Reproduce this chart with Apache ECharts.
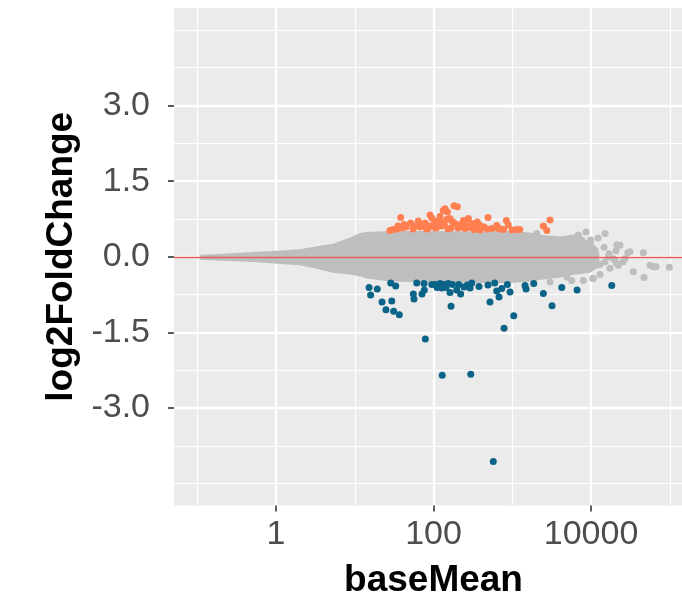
<!DOCTYPE html>
<html>
<head>
<meta charset="utf-8">
<script src="https://cdn.jsdelivr.net/npm/echarts@6/dist/echarts.min.js"></script>
<style>
  html, body { margin: 0; padding: 0; background: #fff; }
  #chart { width: 682px; height: 603px; }
</style>
</head>
<body>
<div id="chart"></div>
<script>
// MA plot: baseMean (log10 axis) vs log2FoldChange

// axis ticks
const X_MAJOR = [1, 100, 10000]
const X_MINOR = [0.1, 10, 1000, 100000]
const Y_MAJOR = [-3, -1.5, 0, 1.5, 3]
const Y_MINOR = [-4.5, -3.75, -2.25, -0.75, 0.75, 2.25, 3.75, 4.5]
const X_LIMITS = [0.0507, 197000]
const Y_LIMITS = [-4.935, 4.935]

// outline of the dense grey cloud (non-significant genes)
const cloudBaseMean = [0.112, 0.212, 0.569, 1.02, 2.02, 3.29, 5.34, 8.70, 11.7, 14.2,
  28.0, 98.6, 425, 936, 1679, 2457, 4036, 6582, 9707, 12380]
const cloudUpper = [0.02, 0.04, 0.08, 0.10, 0.13, 0.19, 0.24, 0.36, 0.45, 0.47,
  0.49, 0.49, 0.48, 0.49, 0.46, 0.41, 0.38, 0.43, 0.26, 0.07]
const cloudLower = [-0.04, -0.06, -0.09, -0.12, -0.15, -0.22, -0.30, -0.33, -0.37, -0.41,
  -0.47, -0.49, -0.50, -0.50, -0.47, -0.43, -0.39, -0.33, -0.30, -0.17]

// scattered grey genes around the cloud edge
const greyBaseMean = [15070, 16940, 20770, 23350, 29240, 46130, 56100, 66840, 98650, 34450,
  47100, 17430, 20960, 13010, 10510, 25480, 19190, 15070, 8643, 6898,
  9707, 5572, 7980, 5688, 11250, 11810, 16590, 22230, 27040, 2043,
  1945, 7250, 10210, 4913, 3016, 10690, 20180, 61800, 31260, 21200,
  9910, 7620, 5410, 13010, 14620, 12270]
const greyLfc = [0.46, 0.06, 0.12, 0.23, 0.08, 0.08, -0.17, -0.20, -0.21, -0.30,
  -0.41, -0.23, -0.13, -0.35, -0.43, -0.10, -0.04, -0.10, 0.49, 0.43,
  0.29, 0.31, -0.47, -0.47, 0.13, -0.17, 0.00, -0.17, -0.04, 0.46,
  0.39, 0.27, 0.19, -0.40, -0.50, -0.43, -0.07, -0.20, 0.10, 0.24,
  0.33, 0.33, 0.33, -0.15, 0.19, 0.37]

// up-regulated genes
const upBaseMean = [28.0, 30.6, 34.1, 38.3, 39.8, 44.8, 51.1, 54.9, 64.1, 67.4,
  73.6, 78.0, 85.1, 90.3, 94.9, 99.4, 108, 112, 121, 125,
  133, 140, 150, 147, 162, 167, 182, 201, 188, 217,
  239, 251, 277, 306, 337, 360, 389, 438, 492, 553,
  635, 665, 840, 891, 993, 1140, 1245, 2479, 2742, 3016,
  35.4, 42.2, 58.2, 81.5, 101, 116, 138, 153, 174, 205,
  230, 291, 327, 478, 709, 774, 82.6, 128, 255, 389]
const upLfc = [0.52, 0.54, 0.55, 0.78, 0.57, 0.59, 0.67, 0.55, 0.71, 0.59,
  0.64, 0.67, 0.57, 0.83, 0.77, 0.64, 0.57, 0.71, 0.80, 0.61,
  0.92, 0.95, 0.89, 0.74, 0.76, 0.57, 1.01, 0.99, 0.66, 0.63,
  0.72, 0.56, 0.76, 0.66, 0.66, 0.69, 0.53, 0.59, 0.78, 0.56,
  0.62, 0.56, 0.72, 0.63, 0.53, 0.54, 0.54, 0.61, 0.52, 0.73,
  0.61, 0.64, 0.61, 0.55, 0.59, 0.63, 0.62, 0.55, 0.70, 0.57,
  0.60, 0.58, 0.54, 0.55, 0.55, 0.54, 0.62, 0.68, 0.64, 0.62]

// down-regulated genes
const downBaseMean = [15.2, 15.9, 19.3, 22.2, 24.9, 28.6, 29.5, 31.2, 33.1, 36.8,
  55.4, 56.5, 61.2, 71.4, 75.7, 76.4, 78.7, 94.9, 104.5, 115,
  121, 136, 154, 162, 167, 197, 209, 221, 244, 269,
  306, 378, 492, 521, 598, 635, 679, 735, 786, 865,
  936, 1043, 1452, 1496, 1872, 2479, 3198, 4246, 6641, 18320,
  129, 297, 574, 111, 127, 144, 174, 291]
const downLfc = [-0.61, -0.76, -0.64, -0.90, -1.05, -0.52, -0.88, -1.08, -0.58, -1.15,
  -0.74, -0.84, -0.52, -0.74, -0.53, -0.66, -1.63, -0.55, -0.55, -0.59,
  -0.53, -0.55, -0.53, -0.71, -0.98, -0.66, -0.55, -0.74, -0.60, -0.56,
  -0.52, -0.59, -0.56, -0.90, -0.52, -0.68, -0.80, -0.63, -1.42, -0.55,
  -0.70, -1.17, -0.57, -0.64, -0.53, -0.73, -0.97, -0.61, -0.66, -0.57,
  -2.35, -2.33, -4.06, -0.61, -0.62, -0.61, -0.55, -0.62]

const FONT = '"Liberation Sans", Arial, sans-serif'
const lg = Math.log10
const pairs = (xs, ys) => xs.map((x, i) => [lg(x), ys[i]])

const cloudRows = cloudBaseMean.map((b, i) => [lg(b), cloudUpper[i], cloudLower[i]])

const tickStyle = { show: true, length: 6, lineStyle: { color: '#333333', width: 1.6 } }
const labelStyle = { color: '#4D4D4D', fontSize: 34, fontFamily: FONT }
const titleStyle = { color: '#000', fontSize: 37, fontWeight: 'bold', fontFamily: FONT }

const xBase = {
  type: 'value', position: 'bottom',
  min: lg(X_LIMITS[0]), max: lg(X_LIMITS[1]),
  axisLine: { show: false, onZero: false },
}
const yBase = {
  type: 'value', position: 'left',
  min: Y_LIMITS[0], max: Y_LIMITS[1],
  axisLine: { show: false, onZero: false },
}

const option = {
  animation: false,
  backgroundColor: '#fff',
  grid: {
    left: 174, top: 8, right: -11, bottom: 97.5,
    show: true, backgroundColor: '#EBEBEB', borderWidth: 0,
    outerBoundsMode: 'none',
  },
  xAxis: [
    {
      ...xBase,
      axisTick: { show: false, customValues: X_MINOR.map(lg) },
      axisLabel: { show: false },
      splitLine: { show: true, lineStyle: { color: '#fff', width: 1.2 } },
    },
    {
      ...xBase,
      name: 'baseMean', nameLocation: 'middle', nameGap: 57, nameTextStyle: titleStyle,
      axisTick: { ...tickStyle, customValues: X_MAJOR.map(lg) },
      axisLabel: {
        ...labelStyle, margin: 12, customValues: X_MAJOR.map(lg),
        formatter: v => String(Math.round(Math.pow(10, v))),
      },
      splitLine: { show: true, lineStyle: { color: '#fff', width: 2.4 } },
    },
  ],
  yAxis: [
    {
      ...yBase,
      axisTick: { show: false, customValues: Y_MINOR },
      axisLabel: { show: false },
      splitLine: { show: true, lineStyle: { color: '#fff', width: 1.2 } },
    },
    {
      ...yBase,
      name: 'log2FoldChange', nameLocation: 'middle', nameGap: 87, nameTextStyle: titleStyle,
      axisTick: { ...tickStyle, customValues: Y_MAJOR },
      axisLabel: {
        ...labelStyle, margin: 24, customValues: Y_MAJOR,
        formatter: v => v.toFixed(1),
      },
      splitLine: { show: true, lineStyle: { color: '#fff', width: 2.4 } },
    },
  ],
  series: [
    {
      type: 'custom',
      xAxisIndex: 1, yAxisIndex: 1,
      data: cloudRows,
      encode: { x: 0, y: [1, 2] },
      clip: true,
      silent: true,
      renderItem(params, api) {
        if (params.dataIndex !== 0) return
        const pts = cloudRows.map(r => api.coord([r[0], r[1]]))
        for (let i = cloudRows.length - 1; i >= 0; i--) {
          pts.push(api.coord([cloudRows[i][0], cloudRows[i][2]]))
        }
        return {
          type: 'polygon',
          shape: { points: pts },
          style: { fill: '#BEBEBE', stroke: '#BEBEBE', lineWidth: 2 },
        }
      },
    },
    {
      type: 'scatter', xAxisIndex: 1, yAxisIndex: 1,
      data: pairs(greyBaseMean, greyLfc),
      symbolSize: 7,
      itemStyle: { color: '#BEBEBE', opacity: 1 },
    },
    {
      type: 'scatter', xAxisIndex: 1, yAxisIndex: 1,
      data: pairs(upBaseMean, upLfc),
      symbolSize: 7,
      itemStyle: { color: '#FF7F50', opacity: 1 },
    },
    {
      type: 'scatter', xAxisIndex: 1, yAxisIndex: 1,
      data: pairs(downBaseMean, downLfc),
      symbolSize: 7,
      itemStyle: { color: '#0B6487', opacity: 1 },
      markLine: {
        silent: true,
        symbol: 'none',
        label: { show: false },
        lineStyle: { color: '#E4605C', width: 1.4, type: 'solid' },
        data: [{ yAxis: 0 }],
      },
    },
  ],
}

const chart = echarts.init(document.getElementById('chart'), null, { renderer: 'canvas' })
chart.setOption(option)
</script>
</body>
</html>
